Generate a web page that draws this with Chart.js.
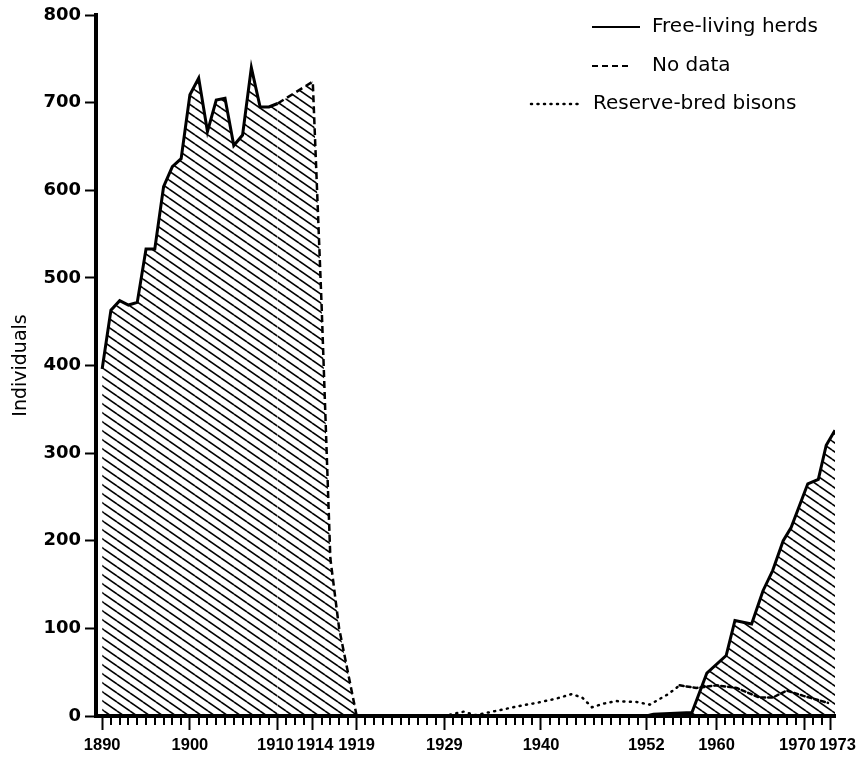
<!DOCTYPE html>
<html lang="en">
<head>
<meta charset="UTF-8">
<title>Bison numbers 1890-1973</title>
<script src="https://cdn.jsdelivr.net/npm/chart.js"></script>
<style>
  html, body { margin: 0; padding: 0; background: #fff; }
  #wrap { width: 866px; height: 761px; }
</style>
</head>
<body>
<div id="wrap"><canvas id="bisonChart" width="866" height="761"></canvas></div>
<script>
// Free-living herds, counted years before the collapse
const earlyYears  = [1890, 1891, 1892, 1893, 1894, 1895, 1896, 1897, 1898, 1899, 1900,
                     1901, 1902, 1903, 1904, 1905, 1906, 1907, 1908, 1909, 1910];
const earlyCounts = [396, 463, 474, 469, 472, 533, 533, 604, 627, 636, 709,
                     728, 667, 703, 705, 651, 663, 740, 695, 695, 699];

// No data: assumed course down to extinction in 1919
const gapYears  = [1910, 1914, 1915, 1916, 1917, 1918, 1919];
const gapCounts = [699, 724, 470, 180, 100, 50, 0];

// Free-living herds after the reintroduction
const lateYears  = [1919, 1952, 1952.8, 1957.2, 1958.9, 1961.1, 1962.1, 1964, 1965.3,
                    1966.4, 1967.6, 1968.5, 1970.4, 1971.6, 1972.5, 1973.5];
const lateCounts = [0, 0, 2, 4, 49, 69, 109, 105, 143, 166, 200, 215, 265, 270, 309, 326];

// Reserve-bred bisons
const reserveYears  = [1928.9, 1931.2, 1932.5, 1935, 1937.3, 1939.5, 1941.8, 1943.5, 1944.7,
                       1945.8, 1947.1, 1948.6, 1950.9, 1952.4, 1954.5, 1955.8, 1957.7, 1960,
                       1962.3, 1964.9, 1966.4, 1968, 1969.9, 1972.7];
const reserveCounts = [0, 5, 1, 6, 11, 15, 20, 25, 21, 10, 14, 17, 16, 13, 25, 35, 32, 35,
                       32, 21, 21, 29, 23, 15];

// axis ticks
const yearLabels = [1890, 1900, 1910, 1914, 1919, 1929, 1940, 1952, 1960, 1970, 1973];
const countTicks = [0, 100, 200, 300, 400, 500, 600, 700, 800];

const points = (xs, ys) => xs.map((x, i) => ({ x: x, y: ys[i] }));

// diagonal hatching used under the herd curves
function hatchPattern() {
    const tile = document.createElement('canvas');
    tile.width = 13;
    tile.height = 9;
    const g = tile.getContext('2d');
    g.strokeStyle = '#000';
    g.lineWidth = 1.6;
    [-9, 0, 9].forEach(dy => {
        g.beginPath();
        g.moveTo(0, dy);
        g.lineTo(13, dy + 9);
        g.stroke();
    });
    return g.createPattern(tile, 'repeat');
}

const hatch = hatchPattern();
const DOTS = [1, 5.5];

// some year labels sit close together, nudge them apart
function yearText(v) {
    if (v === 1910) return '1910 ';
    if (v === 1914) return ' 1914';
    if (v === 1970) return '1970   ';
    if (v === 1973) return '   1973';
    return String(v);
}

// minor year ticks and the key in the upper right corner
const extras = {
    id: 'extras',
    afterDraw(chart) {
        const { ctx, chartArea } = chart;
        const x = chart.scales.x;
        ctx.save();
        ctx.strokeStyle = '#000';
        ctx.lineWidth = 2;
        for (let yr = 1890; yr <= 1973; yr++) {
            if (yearLabels.includes(yr)) continue;
            const px = Math.round(x.getPixelForValue(yr));
            ctx.beginPath();
            ctx.moveTo(px, chartArea.bottom);
            ctx.lineTo(px, chartArea.bottom + 9);
            ctx.stroke();
        }

        const W = chart.width;
        const key = [
            { text: chart.data.datasets[1].label, dash: [], x0: W - 274, x1: W - 226, y: 27, tx: W - 214, width: 2, cap: 'butt' },
            { text: chart.data.datasets[2].label, dash: [6, 4], x0: W - 274, x1: W - 236, y: 66, tx: W - 214, width: 2, cap: 'butt' },
            { text: chart.data.datasets[0].label, dash: DOTS, x0: W - 335, x1: W - 285, y: 104, tx: W - 273, width: 2.5, cap: 'round' }
        ];
        ctx.fillStyle = '#000';
        ctx.font = '20px "DejaVu Sans"';
        ctx.textBaseline = 'middle';
        key.forEach(k => {
            ctx.setLineDash(k.dash);
            ctx.lineWidth = k.width;
            ctx.lineCap = k.cap;
            ctx.beginPath();
            ctx.moveTo(k.x0, k.y);
            ctx.lineTo(k.x1, k.y);
            ctx.stroke();
            ctx.fillText(k.text, k.tx, k.y);
        });
        ctx.restore();
    }
};

new Chart(document.getElementById('bisonChart'), {
    type: 'line',
    data: {
        datasets: [
            {
                label: 'Reserve-bred bisons',
                data: points(reserveYears, reserveCounts),
                borderColor: '#000',
                borderWidth: 2.5,
                borderCapStyle: 'round',
                borderDash: DOTS,
                segment: {
                    borderDash: c => c.p0.parsed.x >= 1955 ? [4, 3] : DOTS
                },
                fill: false
            },
            {
                label: 'Free-living herds',
                data: points(earlyYears, earlyCounts),
                borderColor: '#000',
                borderWidth: 3,
                backgroundColor: hatch,
                fill: 'origin'
            },
            {
                label: 'No data',
                data: points(gapYears, gapCounts),
                borderColor: '#000',
                borderWidth: 2.5,
                borderDash: [7, 4],
                backgroundColor: hatch,
                fill: 'origin'
            },
            {
                label: 'Free-living herds',
                data: points(lateYears, lateCounts),
                borderColor: '#000',
                borderWidth: 3,
                backgroundColor: hatch,
                fill: 'origin'
            }
        ]
    },
    options: {
        responsive: false,
        animation: false,
        elements: { point: { radius: 0 }, line: { tension: 0 } },
        layout: { padding: { left: 0, right: 31, top: 15, bottom: 0 } },
        plugins: { legend: { display: false }, tooltip: { enabled: false } },
        scales: {
            x: {
                type: 'linear',
                min: 1889.3,
                max: 1973.5,
                afterBuildTicks: s => { s.ticks = yearLabels.map(v => ({ value: v })); },
                afterFit: s => { s.height = 45; },
                ticks: {
                    autoSkip: false,
                    maxRotation: 0,
                    padding: 6,
                    color: '#000',
                    font: { family: 'Liberation Sans', weight: 'bold', size: 16.5 },
                    callback: yearText
                },
                grid: { drawOnChartArea: false, tickLength: 14, tickWidth: 2, tickColor: '#000' },
                border: { width: 4, color: '#000' }
            },
            y: {
                min: 0,
                max: 800,
                afterBuildTicks: s => { s.ticks = countTicks.map(v => ({ value: v })); },
                afterFit: s => { s.width = 96; },
                ticks: {
                    padding: 4,
                    color: '#000',
                    font: { family: 'DejaVu Sans', weight: 'bold', size: 18 }
                },
                grid: { drawOnChartArea: false, tickLength: 11, tickWidth: 2, tickColor: '#000' },
                border: { width: 4, color: '#000' },
                title: {
                    display: true,
                    text: 'Individuals',
                    color: '#000',
                    font: { family: 'DejaVu Sans', size: 19 },
                    padding: { top: 10, bottom: 0 }
                }
            }
        }
    },
    plugins: [extras]
});
</script>
</body>
</html>
